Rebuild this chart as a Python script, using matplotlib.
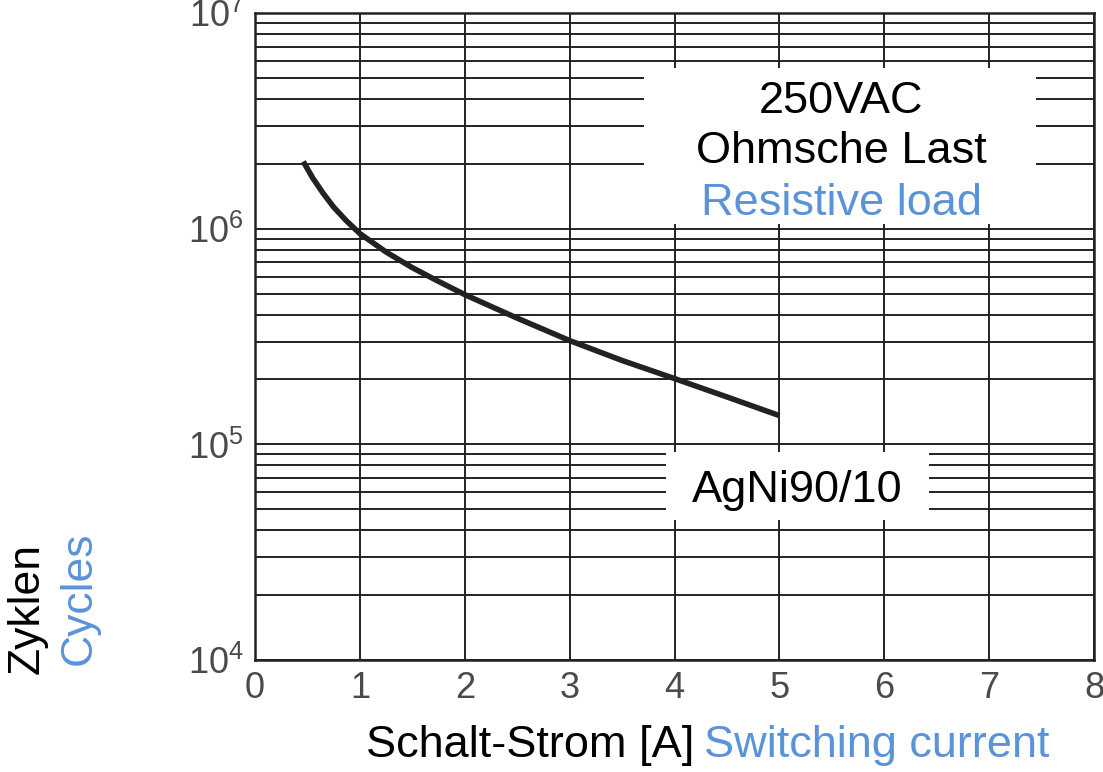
import math

import matplotlib
matplotlib.use('Agg')
import matplotlib.pyplot as plt
from matplotlib.patches import Rectangle
from matplotlib.ticker import FixedLocator, FuncFormatter, LogLocator, NullFormatter

plt.rcParams['font.family'] = ['Liberation Sans', 'DejaVu Sans']
plt.rcParams['mathtext.default'] = 'regular'

GRID = '#222222'
BLUE = '#5b93d8'
TICK_GREY = '#4a4a4a'

# curve
current = [0.46, 0.55, 0.65, 0.75, 0.87, 1.0, 1.25, 1.5, 1.75, 2.0,
           2.5, 3.0, 3.5, 4.0, 4.5, 5.0]
cycles = [2.05e6, 1.72e6, 1.46e6, 1.26e6, 1.09e6, 9.5e5, 7.8e5, 6.6e5, 5.7e5, 4.95e5,
          3.85e5, 3.03e5, 2.45e5, 2.02e5, 1.66e5, 1.36e5]

x_ticks = [0, 1, 2, 3, 4, 5, 6, 7, 8]
y_decades = [1e4, 1e5, 1e6, 1e7]

fig = plt.figure(figsize=(11.03, 7.72), dpi=100)
ax = fig.add_axes([0.2312, 0.145, 0.7607, 0.838])

ax.set_yscale('log')
ax.set_xlim(0, 8)
ax.set_ylim(1e4, 1e7)

ax.xaxis.set_major_locator(FixedLocator(x_ticks))
ax.yaxis.set_major_locator(FixedLocator(y_decades))
ax.yaxis.set_minor_locator(LogLocator(base=10, subs=range(2, 10)))
ax.yaxis.set_minor_formatter(NullFormatter())
ax.yaxis.set_major_formatter(FuncFormatter(lambda v, p: r'$10^{%d}$' % round(math.log10(v))))

ax.grid(True, which='both', axis='y', color=GRID, lw=1.4)
ax.grid(True, which='major', axis='x', color=GRID, lw=1.4)
ax.set_axisbelow(True)
for s in ax.spines.values():
    s.set_color(GRID)
    s.set_linewidth(1.8)

ax.tick_params(which='both', length=0)
ax.tick_params(axis='x', labelsize=26, labelcolor=TICK_GREY, pad=8)
ax.tick_params(axis='y', labelsize=26, labelcolor=TICK_GREY, pad=8)

ax.plot(current, cycles, color=GRID, lw=4, solid_capstyle='butt', zorder=3)

# white label boxes covering the grid
ax.add_patch(Rectangle((3.71, 5.57e6), 7.45 - 3.71, 1.05e6 - 5.57e6,
                       facecolor='white', edgecolor='none', zorder=2))
ax.add_patch(Rectangle((3.92, 4.44e4), 6.43 - 3.92, 9.25e4 - 4.44e4,
                       facecolor='white', edgecolor='none', zorder=2))

ax.text(5.59, 10 ** 6.592, '250VAC', ha='center', va='center', fontsize=32.5, zorder=4)
ax.text(5.59, 10 ** 6.360, 'Ohmsche Last', ha='center', va='center', fontsize=32.5, zorder=4)
ax.text(5.59, 10 ** 6.118, 'Resistive load', ha='center', va='center', fontsize=32.5,
        color=BLUE, zorder=4)
ax.text(5.17, 10 ** 4.785, 'AgNi90/10', ha='center', va='center', fontsize=32.5, zorder=4)

# axis labels in two colours
fig.text(694 / 1103, 1 - 746 / 772, 'Schalt-Strom [A]', ha='right', va='center', fontsize=32.5)
fig.text(704 / 1103, 1 - 746 / 772, 'Switching current', ha='left', va='center',
         fontsize=32.5, color=BLUE)
fig.text(27 / 1103, 1 - 608 / 772, 'Zyklen', ha='center', va='center', rotation=90, fontsize=32)
fig.text(79 / 1103, 1 - 598 / 772, 'Cycles', ha='center', va='center', rotation=90,
         fontsize=32, color=BLUE)

fig.savefig('out.png', dpi=100, facecolor='white')
